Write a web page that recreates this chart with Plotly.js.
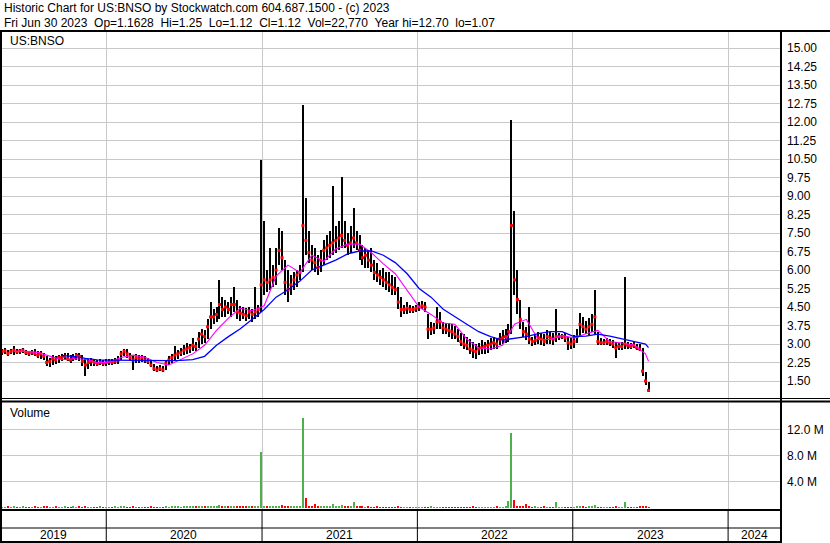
<!DOCTYPE html>
<html>
<head>
<meta charset="utf-8">
<script src="https://cdn.plot.ly/plotly-3.0.1.min.js"></script>
<style>html,body{margin:0;padding:0;background:#fff;}#chart{width:830px;height:543px;}</style>
</head>
<body>
<div id="chart"></div>
<script>
// ---- DATA (weekly bars, week of 2019-05-01 .. 2023-06-28) ----
const firstWeek = '2019-05-01';
const highs = [
2.80,2.85,2.75,2.78,2.90,2.80,2.78,2.82,2.75,2.72,
2.75,2.78,2.70,2.72,2.65,2.50,2.45,2.55,2.50,2.55,
2.60,2.65,2.62,2.55,2.60,2.62,2.65,2.55,2.40,2.40,
2.45,2.40,2.35,2.40,2.35,2.38,2.40,2.38,2.45,2.50,
2.70,2.80,2.78,2.65,2.55,2.60,2.55,2.55,2.50,2.45,
2.35,2.20,2.10,2.15,2.10,2.35,2.50,2.60,2.90,2.75,
2.85,2.95,3.05,3.00,3.25,3.10,3.50,3.60,3.55,4.00,
4.70,4.40,4.50,5.60,4.90,4.80,4.70,4.90,5.30,4.80,
4.55,4.50,4.45,4.50,4.40,5.30,4.60,10.45,8.00,6.00,
6.90,6.20,6.90,7.70,7.60,6.40,6.00,5.80,5.90,6.00,
6.20,12.70,8.90,7.60,7.00,6.90,6.60,6.80,7.20,7.40,
7.60,9.40,7.80,8.00,9.77,8.00,7.50,7.80,8.50,7.60,
7.40,7.00,6.90,6.80,6.90,6.40,6.30,6.00,6.10,5.90,
5.90,5.80,5.70,5.30,4.90,4.60,4.70,4.60,4.55,4.60,
4.70,4.75,4.70,4.20,3.90,3.85,4.50,4.30,3.90,3.85,
3.85,3.80,3.75,3.60,3.45,3.40,3.30,3.20,3.10,3.00,
3.05,3.15,3.10,3.15,3.25,3.30,3.25,3.45,3.55,3.60,
3.80,12.08,8.40,6.00,4.80,3.90,3.70,4.50,3.30,3.40,
3.50,3.45,3.40,3.55,3.50,3.45,4.40,3.45,3.40,3.45,
3.30,3.25,3.35,3.60,4.25,4.10,3.95,4.05,4.20,5.20,
3.50,3.25,3.20,3.25,3.20,3.15,3.10,3.05,3.10,5.70,
3.10,3.05,3.10,3.00,3.00,2.85,1.85,1.45];
const lows = [
2.55,2.60,2.50,2.60,2.55,2.60,2.58,2.62,2.55,2.50,
2.55,2.52,2.45,2.40,2.35,2.10,2.05,2.15,2.20,2.25,
2.30,2.35,2.30,2.25,2.30,2.35,2.30,2.10,1.70,2.00,
2.10,2.10,2.10,2.15,2.12,2.12,2.15,2.15,2.18,2.20,
2.35,2.50,2.45,2.30,1.95,2.25,2.25,2.28,2.25,2.20,
2.05,1.90,1.88,1.90,1.85,1.95,2.15,2.25,2.30,2.40,
2.50,2.55,2.60,2.65,2.70,2.70,2.85,3.00,3.05,3.20,
3.60,3.80,3.90,4.00,4.10,4.10,4.20,4.10,4.30,4.00,
3.95,4.00,3.95,4.00,3.90,4.00,4.10,4.30,5.00,5.10,
5.20,5.30,5.40,6.20,6.00,5.00,4.70,5.00,5.20,5.30,
5.60,5.90,6.60,6.30,6.00,5.90,5.80,5.90,6.20,6.40,
6.50,6.60,6.70,6.80,6.90,6.90,6.60,6.70,6.90,6.80,
6.40,6.20,6.10,6.10,5.90,5.60,5.50,5.40,5.30,5.20,
5.10,5.00,5.00,4.40,4.10,4.20,4.20,4.25,4.25,4.30,
4.35,4.40,4.30,3.20,3.35,3.40,3.60,3.60,3.40,3.40,
3.30,3.20,3.20,3.10,2.90,2.80,2.75,2.60,2.45,2.40,
2.55,2.60,2.60,2.65,2.75,2.80,2.80,2.95,3.00,3.05,
3.10,3.40,5.00,4.20,3.60,3.30,3.15,3.00,2.90,2.95,
3.00,2.95,2.90,3.00,3.00,2.95,3.10,3.15,3.20,3.10,
2.75,2.80,2.85,3.05,3.30,3.45,3.40,3.35,3.50,3.40,
2.95,2.95,2.95,2.95,2.90,2.85,2.45,2.75,2.75,2.80,
2.80,2.80,2.82,2.75,2.70,1.70,1.35,1.07];
const closes = [
2.70,2.72,2.62,2.70,2.75,2.68,2.72,2.75,2.65,2.62,
2.65,2.62,2.55,2.60,2.50,2.25,2.30,2.40,2.35,2.45,
2.45,2.50,2.40,2.35,2.45,2.55,2.50,2.30,2.15,2.25,
2.30,2.25,2.20,2.25,2.22,2.25,2.28,2.25,2.30,2.35,
2.60,2.70,2.60,2.45,2.35,2.45,2.40,2.45,2.35,2.30,
2.15,2.00,1.95,2.00,1.95,2.20,2.35,2.45,2.55,2.60,
2.65,2.75,2.80,2.85,2.95,2.90,3.20,3.40,3.30,3.70,
4.10,4.10,4.20,4.60,4.40,4.50,4.40,4.60,4.60,4.30,
4.25,4.20,4.15,4.30,4.20,4.30,4.40,5.40,5.60,5.50,
5.60,5.70,6.00,6.80,6.50,5.50,5.20,5.40,5.60,5.80,
5.90,7.80,7.20,6.70,6.40,6.30,6.10,6.40,6.80,6.90,
7.00,7.10,7.20,7.30,7.40,7.20,7.00,7.10,7.30,7.10,
6.80,6.50,6.60,6.40,6.20,5.90,5.80,5.70,5.60,5.50,
5.40,5.30,5.20,4.70,4.40,4.40,4.45,4.40,4.40,4.45,
4.50,4.55,4.50,3.60,3.60,3.65,3.90,3.90,3.65,3.60,
3.55,3.50,3.40,3.30,3.10,3.00,2.95,2.80,2.75,2.70,
2.80,2.85,2.90,2.95,3.00,3.05,3.00,3.20,3.25,3.30,
3.50,7.80,5.60,4.80,4.00,3.50,3.40,3.20,3.10,3.15,
3.25,3.20,3.10,3.30,3.25,3.20,3.30,3.30,3.30,3.25,
3.05,3.00,3.10,3.30,3.80,3.70,3.60,3.70,3.80,4.10,
3.10,3.05,3.05,3.10,3.05,3.00,2.85,2.90,2.90,3.00,
2.95,2.90,2.95,2.85,2.80,1.90,1.50,1.12];
// volume in millions of shares
const volumes = [
.15,.12,.18,.14,.2,.15,.12,.16,.14,.13,
.15,.18,.12,.14,.2,.16,.13,.15,.17,.12,
.14,.16,.15,.12,.18,.14,.2,.15,.22,.14,
.13,.15,.12,.16,.14,.15,.13,.12,.16,.15,
.18,.2,.15,.14,.16,.15,.13,.14,.15,.12,
.16,.14,.15,.13,.12,.18,.15,.16,.2,.17,
.15,.18,.2,.16,.22,.18,.2,.25,.2,.3,
.28,.25,.3,.45,.25,.22,.2,.25,.3,.22,
.2,.18,.2,.22,.18,.25,.2,8.5,.25,.22,
.2,.22,.3,.25,.35,.22,.25,.2,.3,.25,
.3,13.7,1.5,.25,.2,.6,.3,.2,.25,.2,
.22,.5,.2,.25,.4,.2,.18,.22,.85,.2,
.18,.2,.15,.18,.15,.14,.16,.13,.15,.14,
.15,.13,.14,.16,.15,.12,.14,.13,.15,.12,
.14,.13,.15,.12,.16,.14,.13,.15,.12,.14,
.13,.15,.12,.14,.13,.15,.12,.14,.16,.13,
.15,.12,.14,.13,.15,.14,.16,.13,.15,.18,
1.0,11.5,1.2,.3,.25,.2,.6,.2,.15,.18,
.15,.14,.16,.13,.15,.14,.9,.15,.13,.14,
.15,.13,.14,.16,.2,.18,.15,.16,.2,.45,
.15,.14,.13,.15,.14,.13,.16,.14,.15,.9,
.14,.13,.15,.14,.16,.3,.2,.15];
// short moving average (magenta), every 4th week from week 4, plus last week
const maShort = [2.70,2.70,2.66,2.52,2.36,2.40,2.38,2.24,2.26,2.45,2.55,2.46,2.25,2.15,2.38,2.60,2.95,3.55,4.05,4.45,4.35,4.55,5.75,6.2,5.9,6.6,6.35,6.85,7.05,7.05,6.7,6.25,5.85,5.15,4.5,4.2,3.85,3.8,3.2,2.85,2.8,2.95,3.8,4.0,3.18,3.18,3.35,3.24,3.42,3.55,3.1,3.04,2.96,2.6,2.3];
// long moving average (blue), every 4th week from week 20, plus last week
const maLong = [2.53,2.50,2.42,2.36,2.35,2.34,2.34,2.33,2.32,2.33,2.34,2.37,2.50,2.95,3.3,3.62,4.0,4.4,4.9,5.2,5.55,6.0,6.2,6.4,6.65,6.77,6.78,6.6,6.3,5.85,5.25,4.9,4.42,4.1,3.8,3.5,3.3,3.16,3.24,3.3,3.42,3.5,3.5,3.3,3.32,3.4,3.32,3.22,3.12,3.0,2.85];
const priceTicks = [1.5,2.25,3,3.75,4.5,5.25,6,6.75,7.5,8.25,9,9.75,10.5,11.25,12,12.75,13.5,14.25,15];
const volTicks = [4,8,12];
const yearStarts = ['2020-01-01','2021-01-01','2022-01-01','2023-01-01','2024-01-01'];
const yearLabels = ['2019','2020','2021','2022','2023','2024'];
const yearLabelPos = ['2019-08-29','2020-07-01','2021-07-02','2022-07-02','2023-07-02','2024-03-03'];
const headerLine1 = 'Historic Chart for US:BNSO by Stockwatch.com 604.687.1500 - (c) 2023';
const headerLine2 = 'Fri Jun 30 2023  Op=1.1628  Hi=1.25  Lo=1.12  Cl=1.12  Vol=22,770  Year hi=12.70  lo=1.07';

// ---- BUILD ----
const DAY = 864e5;
const t0 = Date.parse(firstWeek + 'T00:00:00Z');
const weeks = highs.map((_, i) => new Date(t0 + i * 7 * DAY).toISOString().slice(0, 10));
const last = weeks.length - 1;
const shortIdx = maShort.map((_, k) => k < maShort.length - 1 ? 4 * (k + 1) : last);
const longIdx = maLong.map((_, k) => k < maLong.length - 1 ? 4 * (k + 5) : last);
const volColors = closes.map((c, i) => (i === 0 || c >= closes[i - 1]) ? '#4cb04c' : '#ff0000');

const W = 830, H = 543, ML = 0, MR = 49, MT = 32, MB = 33;
const PW = W - ML - MR, PH = H - MT - MB;
const px = X => (X - ML) / PW;
const py = Y => (H - MB - Y) / PH;
const FONT = {family: 'Liberation Sans, Arial, sans-serif', size: 12, color: '#000'};
const barW = 4.7 * DAY;

const traces = [
  {type: 'bar', x: weeks, base: lows, y: highs.map((h, i) => h - lows[i]), width: barW,
   marker: {color: '#000', line: {width: 0}}, xaxis: 'x', yaxis: 'y'},
  {type: 'scatter', mode: 'markers', x: weeks, y: closes,
   marker: {symbol: 'square', size: 3, color: '#ff0000', line: {width: 0}}, xaxis: 'x', yaxis: 'y'},
  {type: 'scatter', mode: 'lines', x: shortIdx.map(i => weeks[i]), y: maShort,
   line: {color: '#ff00ff', width: 1.1}, xaxis: 'x', yaxis: 'y'},
  {type: 'scatter', mode: 'lines', x: longIdx.map(i => weeks[i]), y: maLong,
   line: {color: '#0000ff', width: 1.3}, xaxis: 'x', yaxis: 'y'},
  {type: 'bar', x: weeks, y: volumes, width: barW,
   marker: {color: volColors, line: {width: 0}}, xaxis: 'x', yaxis: 'y2'}
];

const shapes = [];
const line = (x0, y0, x1, y1, w, xref) => shapes.push({type: 'line', xref: xref || 'paper', yref: 'paper',
  x0: xref ? x0 : px(x0), x1: xref ? x1 : px(x1), y0: py(y0), y1: py(y1), line: {color: '#000', width: w}});
line(0, 31, 830, 31, 2);
line(0, 398.5, 830, 398.5, 1);
line(0, 401.5, 830, 401.5, 2);
line(0, 510, 781, 510, 2);
line(0, 528, 781, 528, 1);
line(0, 542, 781, 542, 2);
line(1, 31, 1, 543, 2);
line(781, 31, 781, 543, 2);
yearStarts.forEach(d => line(d, 510, d, 543, 1, 'x'));

const annotations = [
  {text: headerLine1.replace(/ {2}/g, ' \u00a0'), x: px(2), y: py(8)},
  {text: headerLine2.replace(/ {2}/g, ' \u00a0'), x: px(2), y: py(23)},
  {text: 'US:BNSO', x: px(8), y: py(41)},
  {text: 'Volume', x: px(8), y: py(413)}
].map(a => Object.assign({xref: 'paper', yref: 'paper', xanchor: 'left', yanchor: 'middle',
  showarrow: false, font: FONT}, a));
yearLabels.forEach((t, i) => annotations.push({text: t, x: yearLabelPos[i], xref: 'x', y: py(535), yref: 'paper',
  xanchor: 'center', yanchor: 'middle', showarrow: false, font: FONT}));

const layout = {
  width: W, height: H, margin: {l: ML, r: MR, t: MT, b: MB, pad: 0},
  paper_bgcolor: '#fff', plot_bgcolor: '#fff', showlegend: false, barmode: 'overlay', bargap: 0,
  font: FONT,
  xaxis: {type: 'date', range: ['2019-04-26 08:00', '2024-05-04 07:00'], tickvals: yearStarts,
    showticklabels: false, ticks: '', showgrid: true, gridcolor: '#c8c8c8', gridwidth: 1,
    zeroline: false, showline: false, anchor: 'y2', fixedrange: true},
  yaxis: {domain: [py(400), 1], range: [0.73, 15.65], side: 'right', tickvals: priceTicks,
    ticktext: priceTicks.map(v => v.toFixed(2)), ticks: '', ticklabelstandoff: 5, showgrid: true, gridcolor: '#c8c8c8',
    gridwidth: 1, zeroline: false, showline: false, tickfont: FONT, anchor: 'x'},
  yaxis2: {domain: [0, py(402)], range: [-0.38, 16.23], side: 'right', tickvals: volTicks,
    ticktext: volTicks.map(v => v.toFixed(1) + ' M'), ticks: '', ticklabelstandoff: 5, showgrid: true, gridcolor: '#c8c8c8',
    gridwidth: 1, zeroline: false, showline: false, tickfont: FONT, anchor: 'x'},
  shapes: shapes,
  annotations: annotations
};

Plotly.newPlot('chart', traces, layout, {staticPlot: true, displayModeBar: false});
</script>
</body>
</html>
